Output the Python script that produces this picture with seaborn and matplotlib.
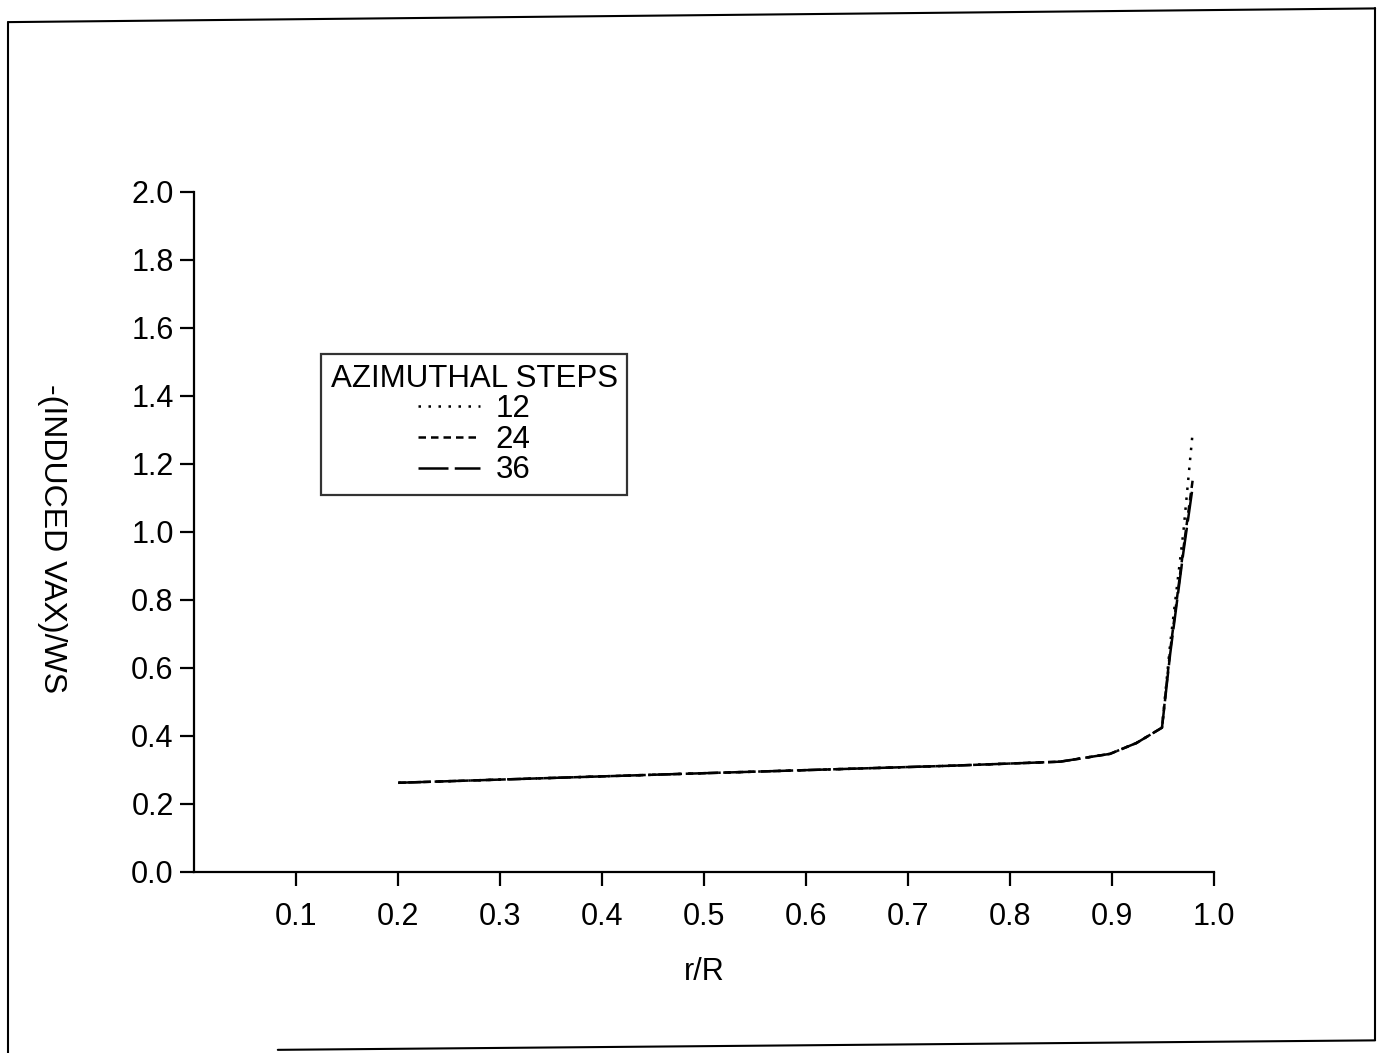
import matplotlib
matplotlib.use("Agg")
import matplotlib.pyplot as plt
from matplotlib.lines import Line2D
import seaborn as sns
import pandas as pd

# r/R stations and -(induced Vax)/Ws for each azimuthal step count
r_R = [0.2, 0.476, 0.741, 0.849, 0.898, 0.924, 0.949, 0.957, 0.970, 0.979]
steps_12 = [0.262, 0.288, 0.312, 0.324, 0.347, 0.379, 0.424, 0.67, 1.00, 1.29]
steps_24 = [0.262, 0.288, 0.312, 0.324, 0.347, 0.379, 0.424, 0.65, 0.95, 1.15]
steps_36 = [0.262, 0.288, 0.312, 0.324, 0.347, 0.379, 0.424, 0.64, 0.94, 1.13]
step_labels = ["12", "24", "36"]

rows = []
for lab, vals in zip(step_labels, [steps_12, steps_24, steps_36]):
    for x, y in zip(r_R, vals):
        rows.append({"r/R": x, "v": y, "steps": lab})
df = pd.DataFrame(rows)

sns.set_style("ticks")
plt.rcParams["font.family"] = ["Liberation Sans", "DejaVu Sans"]
plt.rcParams["text.color"] = "black"
plt.rcParams["axes.labelcolor"] = "black"
plt.rcParams["xtick.color"] = "black"
plt.rcParams["ytick.color"] = "black"
plt.rcParams["axes.edgecolor"] = "black"

fig = plt.figure(figsize=(13.89, 10.53), dpi=100)
ax = fig.add_axes([0.14, 0.172, 0.734, 0.646])

dash_styles = {"12": (1, 3), "24": (3, 2), "36": (12, 2.5)}
sns.lineplot(data=df, x="r/R", y="v", style="steps", dashes=dash_styles,
             color="black", linewidth=1.8, ax=ax, legend=False)

ax.set_xlim(0, 1.0)
ax.set_ylim(0, 2.0)
ax.set_xticks([0.1, 0.2, 0.3, 0.4, 0.5, 0.6, 0.7, 0.8, 0.9, 1.0])
ax.set_yticks([0.0, 0.2, 0.4, 0.6, 0.8, 1.0, 1.2, 1.4, 1.6, 1.8, 2.0])
ax.set_yticklabels([f"{v:.1f}" for v in ax.get_yticks()])
ax.tick_params(axis="both", labelsize=22, length=10, width=1.6, direction="out", pad=5)
ax.tick_params(axis="x", pad=12)
sns.despine(ax=ax)
for s in ["left", "bottom"]:
    ax.spines[s].set_linewidth(1.6)

ax.set_xlabel("r/R", fontsize=22, labelpad=18)
ax.set_ylabel("-(INDUCED VAX)/WS", fontsize=23, rotation=270, va="center")
ax.yaxis.set_label_coords(-0.14, 0.49)

handles = [Line2D([0], [0], color="black", lw=1.8, dashes=dash_styles[k]) for k in step_labels]
leg = ax.legend(handles, step_labels, title="AZIMUTHAL STEPS", loc="upper left",
                bbox_to_anchor=(0.109, 0.784), fontsize=22.5, title_fontsize=22.5,
                frameon=True, fancybox=False, edgecolor="black", handlelength=2.0,
                labelspacing=0.02, borderpad=0.3, handletextpad=0.5)
leg.get_frame().set_linewidth(1.6)
leg._legend_box.align = "center"

# scanned page border
for xs, ys in [([0.006, 0.006], [0.0, 0.979]), ([0.006, 0.99], [0.979, 0.992]),
               ([0.99, 0.99], [0.992, 0.012]), ([0.2, 0.99], [0.003, 0.012])]:
    fig.add_artist(Line2D(xs, ys, color="black", lw=1.5, transform=fig.transFigure))

fig.savefig("out.png", dpi=100, facecolor="white")
